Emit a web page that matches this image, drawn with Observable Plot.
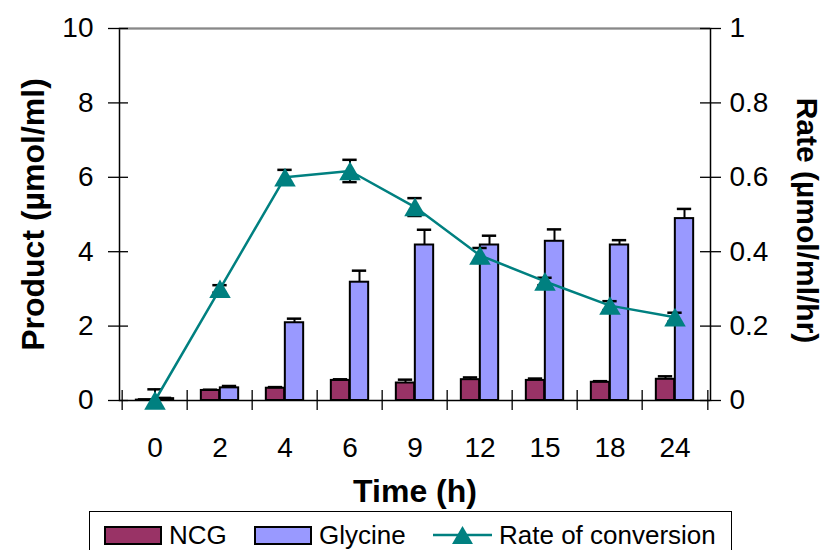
<!DOCTYPE html>
<html>
<head>
<meta charset="utf-8">
<script src="https://cdn.jsdelivr.net/npm/d3@7"></script>
<script src="https://cdn.jsdelivr.net/npm/@observablehq/plot@0.6"></script>
<style>
  html, body { margin: 0; padding: 0; background: #fff; }
  body { width: 825px; height: 550px; overflow: hidden; position: relative; font-family: "Liberation Sans", Arial, sans-serif; }
  #legend { position: absolute; left: 89px; top: 511px; width: 643px; height: 60px; border: 1.5px solid #000; box-sizing: border-box; font-size: 26px; color: #000; }
  .item { position: absolute; top: 8px; display: flex; align-items: center; height: 30px; }
  .sw { width: 54px; height: 15px; border: 2px solid #000; margin-right: 7px; }
</style>
</head>
<body>
<div id="chart"></div>
<div id="legend"></div>
<script>
// ---- data ----
const times = ["0", "2", "4", "6", "9", "12", "15", "18", "24"];
const ncg = [0.01, 0.27, 0.33, 0.54, 0.47, 0.56, 0.54, 0.49, 0.57];
const ncgErr = [0.02, 0.02, 0.03, 0.03, 0.09, 0.06, 0.05, 0.03, 0.08];
const glycine = [0.05, 0.34, 2.09, 3.18, 4.18, 4.18, 4.28, 4.18, 4.89];
const glycineErr = [0.02, 0.05, 0.11, 0.31, 0.41, 0.25, 0.32, 0.13, 0.26];
const rate = [0, 0.30, 0.60, 0.617, 0.52, 0.39, 0.32, 0.255, 0.224];
const rateErr = [0.03, 0.01, 0.02, 0.03, 0.024, 0.02, 0.01, 0.012, 0.012];
const productTicks = [0, 2, 4, 6, 8, 10];
const rateTicks = [0, 0.2, 0.4, 0.6, 0.8, 1];
const seriesNames = ["NCG", "Glycine", "Rate of conversion"];
const colors = ["#993366", "#9999FF", "#008080"];

const rows = times.map((t, i) => ({
  time: t, ncg: ncg[i], ncgErr: ncgErr[i], gly: glycine[i], glyErr: glycineErr[i],
  rate: rate[i], rateErr: rateErr[i]
}));

// ---- layout ----
const W = 825, H = 510, mL = 119, mR = 115, mT = 28, mB = 110;
const bw = (W - mL - mR) / times.length;
const barW = 19, capW = 15, half = bw / 2;
const rateScale = 10; // right axis (0–1) mapped onto left axis (0–10)
const font = "'Liberation Sans', Arial, sans-serif";

const chart = Plot.plot({
  width: W, height: H,
  marginLeft: mL, marginRight: mR, marginTop: mT, marginBottom: mB,
  style: { fontFamily: font, fontSize: "28px", color: "#000", background: "#fff" },
  x: { type: "band", domain: times, paddingInner: 0, paddingOuter: 0, label: null },
  y: { domain: [0, 10], label: null },
  marks: [
    Plot.frame({ stroke: "#000", strokeWidth: 1.5 }),
    Plot.ruleY([10], { stroke: "#888", strokeWidth: 1.5 }),
    // left axis
    Plot.axisY(productTicks, { anchor: "left", tickSize: 11, tickPadding: 15, label: null, fontSize: 28, strokeWidth: 1.3 }),
    Plot.tickY(productTicks, { y: d => d, insetRight: W - mL - mR - 9, stroke: "#000", strokeWidth: 1.3 }),
    // right axis
    Plot.axisY(rateTicks.map(d => d * rateScale), { anchor: "right", tickSize: 10, tickPadding: 9, tickFormat: d => String(+(d / rateScale).toFixed(1)), label: null, fontSize: 28, strokeWidth: 1.3 }),
    Plot.tickY(rateTicks.map(d => d * rateScale), { y: d => d, insetLeft: W - mL - mR - 10, stroke: "#000", strokeWidth: 1.3 }),
    // x axis labels and boundary ticks
    Plot.axisX({ anchor: "bottom", tickSize: 0, tickPadding: 37, label: null, fontSize: 28 }),
    Plot.tickX(times, { x: d => d, dx: -half, insetTop: (H - mT - mB) - 10, insetBottom: -10, stroke: "#000", strokeWidth: 1.3 }),
    Plot.tickX(times.slice(-1), { x: d => d, dx: half, insetTop: (H - mT - mB) - 10, insetBottom: -10, stroke: "#000", strokeWidth: 1.3 }),
    // bars
    Plot.barY(rows, { x: "time", y: "ncg", fill: colors[0], stroke: "#000", strokeWidth: 2, insetLeft: half - barW, insetRight: half }),
    Plot.barY(rows, { x: "time", y: "gly", fill: colors[1], stroke: "#000", strokeWidth: 2, insetLeft: half, insetRight: half - barW }),
    // bar error bars (plus only)
    Plot.ruleX(rows, { x: "time", y1: "ncg", y2: d => d.ncg + d.ncgErr, dx: -barW / 2, stroke: "#000", strokeWidth: 2 }),
    Plot.tickY(rows, { x: "time", y: d => d.ncg + d.ncgErr, insetLeft: half - barW / 2 - capW / 2, insetRight: half + barW / 2 - capW / 2, stroke: "#000", strokeWidth: 2.5 }),
    Plot.ruleX(rows, { x: "time", y1: "gly", y2: d => d.gly + d.glyErr, dx: barW / 2, stroke: "#000", strokeWidth: 2 }),
    Plot.tickY(rows, { x: "time", y: d => d.gly + d.glyErr, insetLeft: half + barW / 2 - capW / 2, insetRight: half - barW / 2 - capW / 2, stroke: "#000", strokeWidth: 2.5 }),
    // rate error bars
    Plot.ruleX(rows, { x: "time", y1: d => Math.max(0, d.rate - d.rateErr) * rateScale, y2: d => (d.rate + d.rateErr) * rateScale, stroke: "#000", strokeWidth: 2 }),
    Plot.tickY(rows, { x: "time", y: d => (d.rate + d.rateErr) * rateScale, insetLeft: half - capW / 2, insetRight: half - capW / 2, stroke: "#000", strokeWidth: 2.5 }),
    Plot.tickY(rows.filter(d => d.rate - d.rateErr > 0), { x: "time", y: d => (d.rate - d.rateErr) * rateScale, insetLeft: half - capW / 2, insetRight: half - capW / 2, stroke: "#000", strokeWidth: 2.5 }),
    // rate line
    Plot.line(rows, { x: "time", y: d => d.rate * rateScale, stroke: colors[2], strokeWidth: 2.5 }),
    Plot.dot(rows, { x: "time", y: d => d.rate * rateScale, symbol: "triangle", r: 8, fill: colors[2], stroke: "none", dy: 3 }),
    // titles
    Plot.text(["Product (µmol/ml)"], { frameAnchor: "left", textAnchor: "middle", lineAnchor: "middle", rotate: -90, dx: -86, fontSize: 32, fontWeight: "bold", fill: "#000" }),
    Plot.text(["Rate (µmol/ml/hr)"], { frameAnchor: "right", textAnchor: "middle", lineAnchor: "middle", rotate: 90, dx: 96, dy: 6, fontSize: 30, fontWeight: "bold", fill: "#000" }),
    Plot.text(["Time (h)"], { frameAnchor: "bottom", textAnchor: "middle", lineAnchor: "middle", dy: 91, fontSize: 32, fontWeight: "bold", fill: "#000" })
  ]
});
document.getElementById("chart").appendChild(chart);

// ---- legend ----
const legend = document.getElementById("legend");
const itemLefts = [14, 164, 343];
seriesNames.forEach((name, i) => {
  const it = document.createElement("div");
  it.className = "item";
  it.style.left = itemLefts[i] + "px";
  if (i < 2) {
    const sw = document.createElement("div");
    sw.className = "sw";
    sw.style.background = colors[i];
    it.appendChild(sw);
  } else {
    const ns = "http://www.w3.org/2000/svg";
    const svg = document.createElementNS(ns, "svg");
    svg.setAttribute("width", 60); svg.setAttribute("height", 24);
    svg.style.marginRight = "6px";
    const ln = document.createElementNS(ns, "line");
    ln.setAttribute("x1", 0); ln.setAttribute("x2", 59); ln.setAttribute("y1", 12); ln.setAttribute("y2", 12);
    ln.setAttribute("stroke", colors[2]); ln.setAttribute("stroke-width", 2.5);
    svg.appendChild(ln);
    const tri = document.createElementNS(ns, "path");
    tri.setAttribute("d", d3.symbol(d3.symbolTriangle, 190)());
    tri.setAttribute("transform", "translate(29.5,15)");
    tri.setAttribute("fill", colors[2]);
    svg.appendChild(tri);
    it.appendChild(svg);
  }
  const tx = document.createElement("span");
  tx.textContent = name;
  it.appendChild(tx);
  legend.appendChild(it);
});
</script>
</body>
</html>
